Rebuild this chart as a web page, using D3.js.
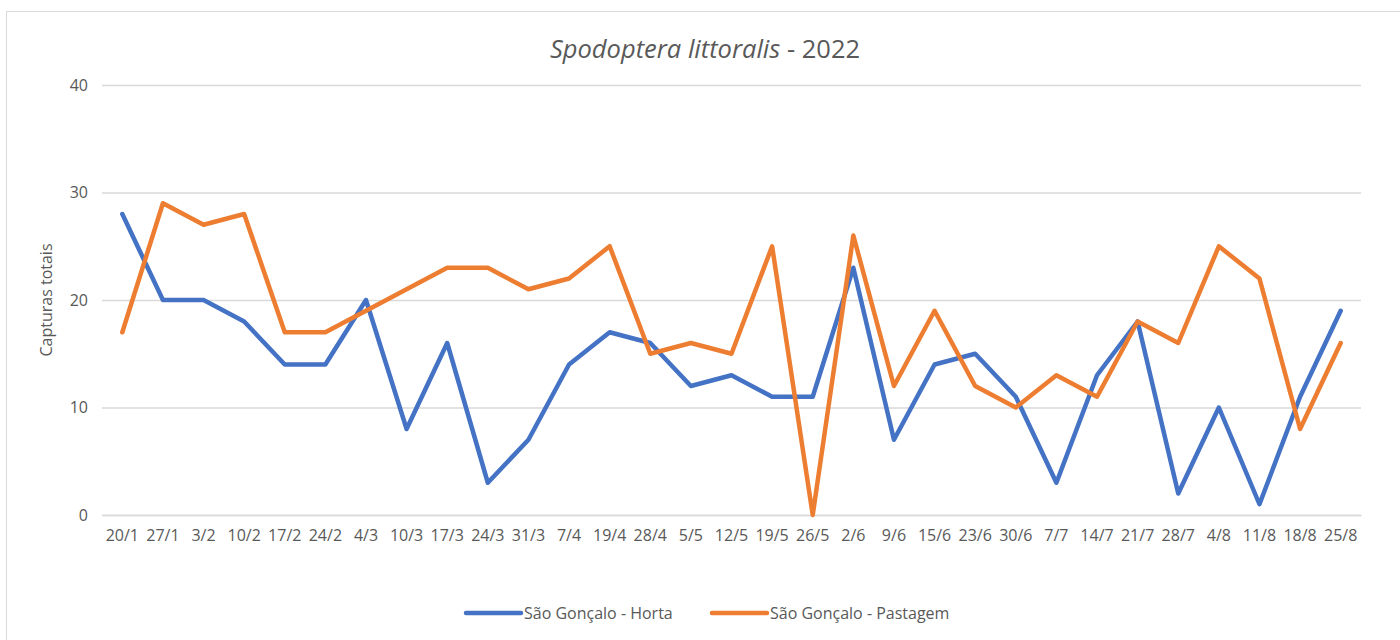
<!DOCTYPE html>
<html><head><meta charset="utf-8">
<script src="https://cdn.jsdelivr.net/npm/d3@7"></script>
<style>
body{margin:0;background:#fff;}
svg{display:block;font-family:"Open Sans",Lato,sans-serif;}
</style></head>
<body>
<svg id="c" width="1400" height="640"></svg>
<script>
const categories = ["20/1","27/1","3/2","10/2","17/2","24/2","4/3","10/3","17/3","24/3","31/3","7/4","19/4","28/4","5/5","12/5","19/5","26/5","2/6","9/6","15/6","23/6","30/6","7/7","14/7","21/7","28/7","4/8","11/8","18/8","25/8"];
const horta = [28,20,20,18,14,14,20,8,16,3,7,14,17,16,12,13,11,11,23,7,14,15,11,3,13,18,2,10,1,11,19];
const pastagem = [17,29,27,28,17,17,19,21,23,23,21,22,25,15,16,15,25,0,26,12,19,12,10,13,11,18,16,25,22,8,16];
const seriesNames = ["São Gonçalo - Horta","São Gonçalo - Pastagem"];
const yTicks = [0,10,20,30,40];

(function(){
const colors = ["#4472C4","#ED7D31"];
const txt = "#595959";
const svg = d3.select("#c");
const pL=102,pR=1361,pT=85,pB=515;

svg.append("rect").attr("x",6.5).attr("y",11.5).attr("width",1400).attr("height",640)
  .attr("fill","#fff").attr("stroke","#d9d9d9").attr("stroke-width",1);

const x = d3.scaleBand().domain(categories).range([pL,pR]).paddingInner(0).paddingOuter(0);
const y = d3.scaleLinear().domain([0,40]).range([pB,pT]);

const yAxis = d3.axisLeft(y).tickValues(yTicks).tickSize(-(pR-pL)).tickPadding(14);
const gy = svg.append("g").attr("transform",`translate(${pL},0)`).call(yAxis);
gy.select(".domain").remove();
gy.selectAll(".tick line").attr("stroke","#d9d9d9").attr("stroke-width",1.5);
gy.selectAll(".tick text").attr("fill",txt).attr("font-size","16px").style("font-family","'Open Sans',sans-serif");

const xAxis = d3.axisBottom(x).tickSize(0).tickPadding(15);
const gx = svg.append("g").attr("transform",`translate(0,${pB})`).call(xAxis);
gx.select(".domain").attr("stroke","#d9d9d9").attr("stroke-width",1.5);
gx.selectAll(".tick text").attr("fill",txt).attr("font-size","16px").style("font-family","'Open Sans',sans-serif");

const line = d3.line().x((d,i)=>x(categories[i])+x.bandwidth()/2).y(d=>y(d));
[horta,pastagem].forEach((s,k)=>{
  svg.append("path").datum(s).attr("d",line).attr("fill","none")
    .attr("stroke",colors[k]).attr("stroke-width",4.5).attr("stroke-linejoin","round").attr("stroke-linecap","round");
});

const t = svg.append("text").attr("x",705).attr("y",58).attr("text-anchor","middle")
  .attr("fill",txt).attr("font-size","25.5px");
t.append("tspan").attr("font-style","italic").text("Spodoptera littoralis");
t.append("tspan").text(" - 2022");

svg.append("text").attr("transform","translate(52,300) rotate(-90)").attr("text-anchor","middle")
  .attr("fill",txt).attr("font-size","16px").text("Capturas totais");

const legX=[466,712];
seriesNames.forEach((n,k)=>{
  svg.append("line").attr("x1",legX[k]).attr("x2",legX[k]+55).attr("y1",613).attr("y2",613)
    .attr("stroke",colors[k]).attr("stroke-width",4.5).attr("stroke-linecap","round");
  svg.append("text").attr("x",legX[k]+58).attr("y",619).attr("fill",txt).attr("font-size","16px").text(n);
});
})();
</script>
</body></html>
